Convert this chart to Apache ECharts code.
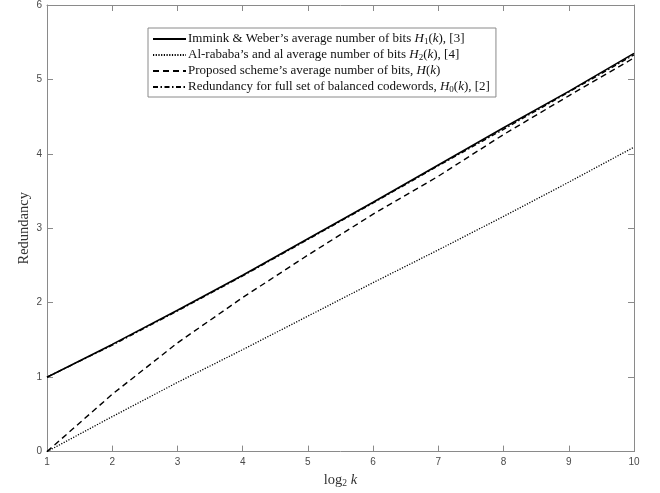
<!DOCTYPE html>
<html>
<head>
<meta charset="utf-8">
<script src="https://cdn.jsdelivr.net/npm/echarts@6/dist/echarts.min.js"></script>
<style>html,body{margin:0;padding:0;background:#fff;}#c{width:660px;height:493px;}</style>
</head>
<body>
<div id="c"></div>
<script>
// log2 k values
var log2k = [1, 2, 3, 4, 5, 6, 7, 8, 9, 10];
// Immink & Weber H1(k)
var h1 = [1.00, 1.44, 1.90, 2.37, 2.86, 3.35, 3.85, 4.35, 4.84, 5.35];
// Al-rababa's H2(k)
var h2 = [0.00, 0.47, 0.93, 1.37, 1.82, 2.27, 2.71, 3.16, 3.62, 4.09];
// Proposed scheme H(k)
var hp = [0.00, 0.77, 1.46, 2.07, 2.64, 3.19, 3.70, 4.26, 4.78, 5.29];
// Full set of balanced codewords H0(k)
var h0 = [1.00, 1.43, 1.89, 2.36, 2.85, 3.34, 3.84, 4.33, 4.83, 5.33];
var xTicks = [1, 2, 3, 4, 5, 6, 7, 8, 9, 10];
var yTicks = [0, 1, 2, 3, 4, 5, 6];

var names = [
  "Immink & Weber's average number of bits H1, [3]",
  "Al-rababa's and al average number of bits H2, [4]",
  "Proposed scheme's average number of bits, H",
  "Redundancy for full set of balanced codewords, H0, [2]"
];
var legendRich = [
  "{n|Immink & Weber\u2019s average number of bits }{i|H}{s|1}{n|(}{i|k}{n|), [3]}",
  "{n|Al-rababa\u2019s and al average number of bits }{i|H}{s|2}{n|(}{i|k}{n|), [4]}",
  "{n|Proposed scheme\u2019s average number of bits, }{i|H}{n|(}{i|k}{n|)}",
  "{n|Redundancy for full set of balanced codewords, }{i|H}{s|0}{n|(}{i|k}{n|), [2]}"
];
function pairs(ys) { return log2k.map(function (x, i) { return [x, ys[i]]; }); }

var serif = '"Liberation Serif", "DejaVu Serif", serif';
var sans = '"Liberation Sans", Arial, sans-serif';
var axisColor = '#8a8a8a';
var labelColor = '#4a4a4a';

function mkSeries(name, ys, type, width) {
  return {
    name: name, type: 'line', data: pairs(ys), showSymbol: false, symbol: 'none',
    smooth: false, xAxisIndex: 0, yAxisIndex: 0,
    lineStyle: { color: '#000', width: width, type: type },
    itemStyle: { color: '#000' },
    emphasis: { disabled: true }, animation: false
  };
}

var chart = echarts.init(document.getElementById('c'), null, { renderer: 'canvas' });
chart.setOption({
  animation: false,
  backgroundColor: '#fff',
  grid: { left: 47, right: 26, top: 5, bottom: 38, containLabel: false },
  legend: {
    orient: 'vertical', left: 148, top: 28,
    padding: [4, 6, 3, 4], itemGap: 2, itemWidth: 33, itemHeight: 12,
    backgroundColor: '#fff', borderColor: '#8a8a8a', borderWidth: 1,
    selectedMode: false,
    itemStyle: { opacity: 0, color: 'transparent', borderWidth: 0 },
    data: names,
    formatter: function (n) { return legendRich[names.indexOf(n)]; },
    textStyle: {
      color: '#111', fontFamily: serif, fontSize: 13, lineHeight: 14,
      padding: [0, 0, 0, -3],
      rich: {
        n: { fontFamily: serif, fontSize: 13, color: '#111', lineHeight: 14 },
        i: { fontFamily: serif, fontSize: 13, fontStyle: 'italic', color: '#111', lineHeight: 14 },
        s: { fontFamily: serif, fontSize: 9, color: '#111', verticalAlign: 'bottom', lineHeight: 14, padding: [4, 0, 0, 0] }
      }
    }
  },
  xAxis: [{
    type: 'value', min: 1, max: 10, interval: 1, position: 'bottom',
    name: '{n|log}{s|2}{i| k}', nameLocation: 'middle', nameGap: 15,
    nameTextStyle: {
      color: '#333',
      rich: {
        n: { fontFamily: serif, fontSize: 14.5, color: '#333' },
        s: { fontFamily: serif, fontSize: 9.5, color: '#333', verticalAlign: 'bottom', padding: [6, 0, 0, 0] },
        i: { fontFamily: serif, fontSize: 14.5, fontStyle: 'italic', color: '#333' }
      }
    },
    axisLine: { show: true, lineStyle: { color: axisColor, width: 1 } },
    axisTick: { show: true, inside: true, length: 6, lineStyle: { color: axisColor } },
    axisLabel: { color: labelColor, fontFamily: sans, fontSize: 10, margin: 6,
      formatter: function (v) { return xTicks.indexOf(v) >= 0 ? String(v) : ''; } },
    splitLine: { show: false }
  }, {
    type: 'value', min: 1, max: 10, interval: 1, position: 'top',
    axisLine: { show: true, onZero: false, lineStyle: { color: axisColor, width: 1 } },
    axisTick: { show: true, inside: true, length: 6, lineStyle: { color: axisColor } },
    axisLabel: { show: false }, splitLine: { show: false }
  }],
  yAxis: [{
    type: 'value', min: 0, max: 6, interval: 1, position: 'left',
    name: 'Redundancy', nameLocation: 'middle', nameGap: 15, nameMoveOverlap: false,
    nameTextStyle: { fontFamily: serif, fontSize: 14.5, color: '#333' },
    axisLine: { show: true, onZero: false, lineStyle: { color: axisColor, width: 1 } },
    axisTick: { show: true, inside: true, length: 6, lineStyle: { color: axisColor } },
    axisLabel: { color: labelColor, fontFamily: sans, fontSize: 10, margin: 5,
      formatter: function (v) { return yTicks.indexOf(v) >= 0 ? String(v) : ''; } },
    splitLine: { show: false }
  }, {
    type: 'value', min: 0, max: 6, interval: 1, position: 'right',
    axisLine: { show: true, onZero: false, lineStyle: { color: axisColor, width: 1 } },
    axisTick: { show: true, inside: true, length: 6, lineStyle: { color: axisColor } },
    axisLabel: { show: false }, splitLine: { show: false }
  }],
  series: [
    mkSeries(names[0], h1, 'solid', 1.6),
    mkSeries(names[1], h2, [1.2, 1.5], 1.3),
    mkSeries(names[2], hp, [6, 4], 1.4),
    mkSeries(names[3], h0, [5, 2.5, 1.5, 2.5], 1.4)
  ]
});
</script>
</body>
</html>
